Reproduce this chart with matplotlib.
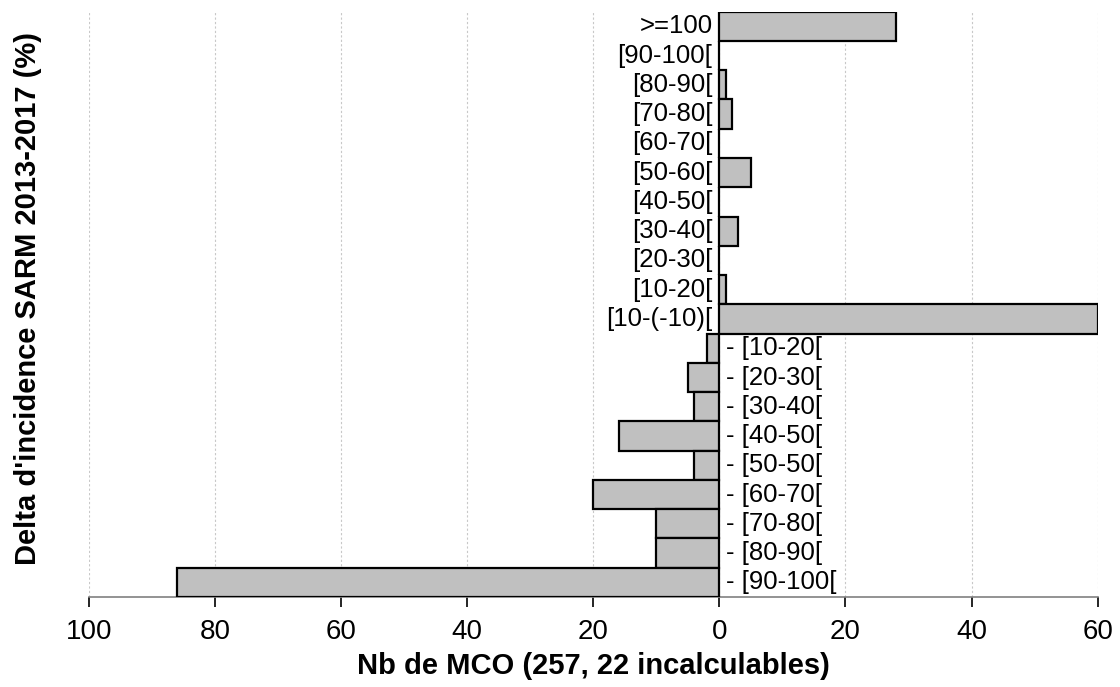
import numpy as np
import matplotlib.pyplot as plt

plt.rcParams['font.family'] = ['Liberation Sans', 'DejaVu Sans']

categories = ['>=100', '[90-100[', '[80-90[', '[70-80[', '[60-70[', '[50-60[',
              '[40-50[', '[30-40[', '[20-30[', '[10-20[', '[10-(-10)[',
              '- [10-20[', '- [20-30[', '- [30-40[', '- [40-50[', '- [50-50[',
              '- [60-70[', '- [70-80[', '- [80-90[', '- [90-100[']
counts = [28, 0, 1, 2, 0, 5, 0, 3, 0, 1, 60,
          -2, -5, -4, -16, -4, -20, -10, -10, -86]
xticks = [-100, -80, -60, -40, -20, 0, 20, 40, 60]
xtick_labels = ['100', '80', '60', '40', '20', '0', '20', '40', '60']

fig = plt.figure(figsize=(11.2, 6.87), dpi=100)
ax = fig.add_axes([0.0795, 0.131, 0.9005, 0.852])

y = np.arange(len(categories))
ax.barh(y, counts, height=1.0, color='#c0c0c0', edgecolor='black', linewidth=1.6, zorder=3)

# category labels next to the zero line
for yi, (cat, c) in enumerate(zip(categories, counts)):
    if cat.startswith('-'):
        ax.annotate(cat, (0, yi), xytext=(5, 0), textcoords='offset points',
                    ha='left', va='center', fontsize=18.5, zorder=4)
    else:
        ax.annotate(cat, (0, yi), xytext=(-5, 0), textcoords='offset points',
                    ha='right', va='center', fontsize=18.5, zorder=4)

ax.set_xlim(-100, 60)
ax.set_ylim(len(categories) - 0.5, -0.5)
ax.set_xticks(xticks)
ax.set_xticklabels(xtick_labels, fontsize=20)
ax.set_yticks([])
ax.grid(axis='x', color='#c8c8c8', linestyle=(0, (2, 2)), linewidth=0.8, zorder=0)

for side in ['top', 'right', 'left']:
    ax.spines[side].set_visible(False)
ax.spines['bottom'].set_color('#808080')
ax.spines['bottom'].set_linewidth(1.2)
ax.tick_params(axis='x', direction='out', length=7, width=1.2, color='black', pad=9)

ax.set_xlabel('Nb de MCO (257, 22 incalculables)', fontsize=21, fontweight='bold', labelpad=5)
ax.set_ylabel("Delta d'incidence SARM 2013-2017 (%)", fontsize=21, fontweight='bold')
ax.yaxis.set_label_coords(-0.047, 0.51)

fig.savefig('out.png', dpi=100)
